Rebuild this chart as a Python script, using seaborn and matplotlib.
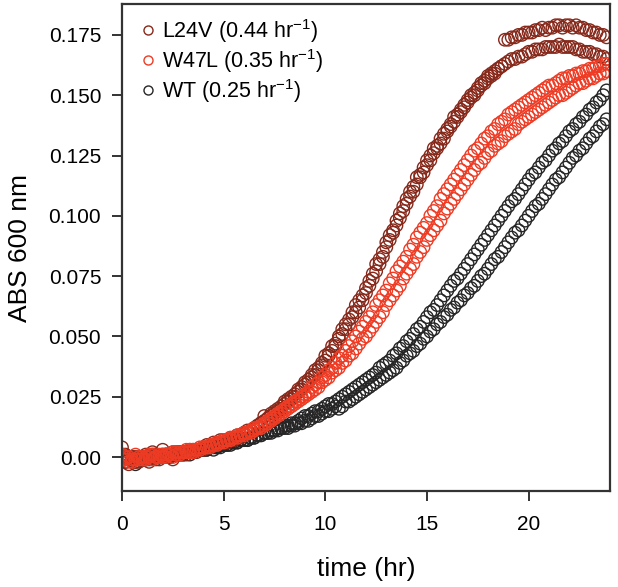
"""
growth_curves.py

Plate-reader growth curves (ABS 600 nm) for WT and two mutants, two wells each,
drawn as open circles.
"""

import numpy as np
import pandas as pd
import seaborn as sns
import matplotlib.pyplot as plt
from matplotlib.lines import Line2D

# reads every 10 min over 24 h
time_min = np.arange(0, 1440, 10)

# absorbance in mAU (x 0.001), one row = 2 h of reads
l24v_a = [4, 1, -1, 0, -2, 0, -1, 1, 0, 2, -1, 0,
          3, 1, 0, 2, 1, 1, 2, 1, 3, 2, 3, 3,
          4, 5, 4, 6, 5, 7, 7, 6, 8, 7, 9, 8,
          10, 11, 11, 12, 13, 14, 17, 16, 18, 19, 20, 21,
          23, 24, 25, 26, 28, 29, 31, 32, 34, 36, 37, 39,
          42, 43, 46, 47, 50, 53, 55, 57, 60, 63, 65, 67,
          70, 73, 76, 80, 82, 85, 89, 92, 94, 98, 101, 104,
          107, 110, 112, 116, 117, 120, 123, 125, 128, 129, 132, 134,
          136, 138, 141, 142, 144, 146, 148, 150, 151, 153, 155, 156,
          158, 159, 160, 161, 162, 173, 173, 174, 174, 175, 175, 176,
          176, 176, 177, 177, 178, 177, 178, 178, 179, 179, 178, 179,
          179, 178, 179, 178, 178, 177, 177, 176, 176, 175, 175, 174]

l24v_b = [0, -2, -3, -1, 0, -2, 0, -1, -2, 0, 1, -1,
          0, 1, 0, -1, 1, 2, 1, 2, 2, 3, 2, 3,
          3, 4, 4, 5, 5, 6, 6, 7, 7, 8, 8, 9,
          10, 10, 11, 12, 13, 14, 15, 16, 17, 18, 19, 20,
          22, 23, 24, 25, 27, 28, 30, 31, 33, 34, 36, 38,
          40, 42, 44, 46, 49, 51, 53, 55, 58, 60, 62, 65,
          68, 71, 74, 77, 80, 83, 87, 90, 93, 96, 99, 102,
          105, 108, 110, 113, 116, 118, 121, 123, 126, 128, 130, 132,
          135, 137, 139, 141, 143, 145, 147, 149, 150, 152, 154, 155,
          157, 158, 159, 161, 162, 163, 164, 165, 165, 166, 166, 167,
          168, 168, 169, 169, 169, 170, 170, 170, 170, 171, 170, 170,
          170, 170, 169, 169, 168, 168, 168, 167, 167, 166, 166, 165]

w47l_a = [1, -1, 0, -2, -1, 0, -1, 0, 1, -1, 0, 0,
          1, 0, 1, 2, 1, 2, 2, 3, 2, 3, 3, 4,
          4, 4, 5, 5, 6, 6, 7, 7, 8, 8, 9, 9,
          10, 10, 11, 12, 12, 13, 14, 15, 16, 17, 18, 19,
          20, 21, 22, 23, 24, 25, 26, 27, 29, 30, 31, 33,
          34, 36, 37, 39, 41, 42, 44, 46, 48, 50, 52, 54,
          56, 58, 60, 63, 65, 67, 69, 72, 74, 77, 79, 81,
          83, 86, 88, 91, 93, 95, 97, 100, 102, 104, 107, 109,
          111, 113, 115, 117, 119, 121, 123, 125, 127, 128, 130, 132,
          133, 135, 136, 138, 139, 140, 142, 143, 144, 145, 146, 147,
          148, 149, 150, 151, 152, 153, 154, 154, 155, 156, 157, 157,
          158, 158, 159, 159, 160, 160, 161, 161, 162, 162, 163, 163]

w47l_b = [-1, 0, -2, -1, 1, -1, 0, -1, 0, 1, 0, 1,
          0, 1, 1, 0, 2, 1, 2, 2, 3, 2, 3, 3,
          4, 4, 4, 5, 5, 6, 6, 7, 7, 8, 8, 9,
          9, 10, 10, 11, 12, 12, 13, 14, 15, 16, 17, 18,
          19, 20, 21, 22, 23, 24, 25, 26, 27, 28, 29, 31,
          32, 33, 35, 36, 37, 39, 40, 42, 43, 45, 47, 49,
          50, 52, 54, 56, 58, 60, 63, 65, 67, 69, 71, 74,
          76, 78, 80, 83, 85, 87, 90, 92, 94, 96, 98, 101,
          103, 105, 107, 109, 111, 113, 115, 117, 119, 121, 122, 124,
          126, 127, 129, 130, 131, 133, 134, 135, 136, 138, 139, 140,
          141, 142, 143, 144, 145, 146, 147, 148, 149, 150, 150, 151,
          152, 153, 154, 155, 155, 156, 157, 157, 158, 159, 159, 160]

wt_a = [1, 0, -1, 0, -2, -1, 0, -1, 0, 1, 0, 0,
        1, 0, 1, 1, 2, 1, 2, 2, 1, 2, 3, 3,
        3, 3, 4, 3, 4, 4, 5, 5, 5, 6, 6, 7,
        7, 7, 8, 8, 9, 9, 10, 10, 11, 11, 12, 12,
        13, 13, 14, 14, 15, 16, 17, 17, 18, 19, 19, 20,
        21, 22, 22, 23, 24, 25, 26, 27, 28, 29, 30, 31,
        32, 33, 34, 35, 37, 38, 39, 40, 42, 43, 45, 46,
        48, 49, 51, 53, 54, 56, 58, 60, 61, 63, 65, 67,
        69, 71, 73, 74, 76, 78, 80, 82, 84, 86, 88, 90,
        92, 94, 96, 98, 100, 102, 104, 106, 107, 109, 111, 113,
        115, 117, 118, 120, 122, 123, 125, 127, 128, 130, 131, 133,
        135, 136, 138, 139, 141, 142, 144, 145, 147, 148, 150, 152]

wt_b = [-1, -2, 0, -1, -3, -1, -1, 0, -1, 0, 1, 0,
        0, 1, 0, 1, 1, 2, 1, 2, 2, 2, 3, 3,
        3, 3, 4, 4, 4, 5, 5, 5, 6, 6, 6, 7,
        7, 7, 8, 8, 9, 9, 10, 10, 10, 11, 11, 12,
        12, 12, 13, 13, 14, 14, 15, 15, 16, 17, 17, 18,
        19, 19, 20, 21, 20, 21, 23, 23, 24, 25, 26, 27,
        28, 29, 30, 31, 32, 33, 34, 35, 36, 37, 39, 40,
        42, 43, 44, 46, 47, 49, 50, 52, 53, 55, 56, 58,
        59, 61, 62, 64, 65, 67, 68, 70, 71, 73, 75, 76,
        78, 80, 82, 83, 85, 87, 89, 91, 93, 94, 96, 98,
        100, 102, 104, 105, 107, 109, 111, 113, 115, 116, 118, 120,
        122, 124, 125, 127, 128, 130, 132, 133, 135, 137, 138, 140]

strains = ["L24V", "W47L", "WT"]
rates = ["0.44", "0.35", "0.25"]
colors = {"L24V": "#86281a", "W47L": "#ee3b24", "WT": "#262626"}
wells = {"L24V": [l24v_a, l24v_b], "W47L": [w47l_a, w47l_b], "WT": [wt_a, wt_b]}

# long table
rows = []
for s in strains:
    for i, w in enumerate(wells[s]):
        rows.append(pd.DataFrame({"time": time_min / 60, "abs": np.array(w) / 1000,
                                  "strain": s, "well": i}))
df = pd.concat(rows, ignore_index=True)

sns.set_style("ticks")
plt.rcParams["font.family"] = ["Liberation Sans", "DejaVu Sans"]
plt.rcParams["mathtext.default"] = "regular"
plt.rcParams["text.color"] = "black"

fig = plt.figure(figsize=(6.18, 5.87), dpi=100)
ax = fig.add_axes([0.1974, 0.1635, 0.7896, 0.8296])

# WT underneath, W47L on top
for s in ["WT", "L24V", "W47L"]:
    sns.scatterplot(data=df[df["strain"] == s], x="time", y="abs", color=colors[s],
                    marker="o", s=80, linewidth=1.0, ax=ax, legend=False)
    pts = ax.collections[-1]
    pts.set_facecolor("none")
    pts.set_edgecolor(colors[s])

ax.set_xlim(0, 24)
ax.set_ylim(-0.0141, 0.1878)
ax.set_xticks([0, 5, 10, 15, 20])
yt = [0, 0.025, 0.05, 0.075, 0.1, 0.125, 0.15, 0.175]
ax.set_yticks(yt)
ax.set_yticklabels(["0.00"] + [f"{v:.3f}" for v in yt[1:]])

for sp in ax.spines.values():
    sp.set_visible(True)
    sp.set_linewidth(1.6)
    sp.set_color("#333333")
ax.tick_params(axis="both", direction="out", length=7, width=1.4, color="#333333",
               labelsize=15, labelcolor="black")
ax.tick_params(axis="x", pad=10)
ax.tick_params(axis="y", pad=8)

ax.set_xlabel("time (hr)", fontsize=19, labelpad=17, color="black")
ax.set_ylabel("ABS 600 nm", fontsize=19, labelpad=12, color="black")

handles = [Line2D([], [], marker="o", linestyle="none", markerfacecolor="none",
                  markeredgecolor=colors[s], markersize=6.5, markeredgewidth=1.0)
           for s in strains]
labels = [f"{s} ({r} hr$^{{-1}}$)" for s, r in zip(strains, rates)]
ax.legend(handles, labels, loc="upper left", bbox_to_anchor=(0.0, 1.005), frameon=False,
          fontsize=15.5, handletextpad=0.15, labelspacing=0.1, handlelength=1.0,
          borderaxespad=0.3)

fig.savefig("out.png", dpi=100)
plt.close(fig)
